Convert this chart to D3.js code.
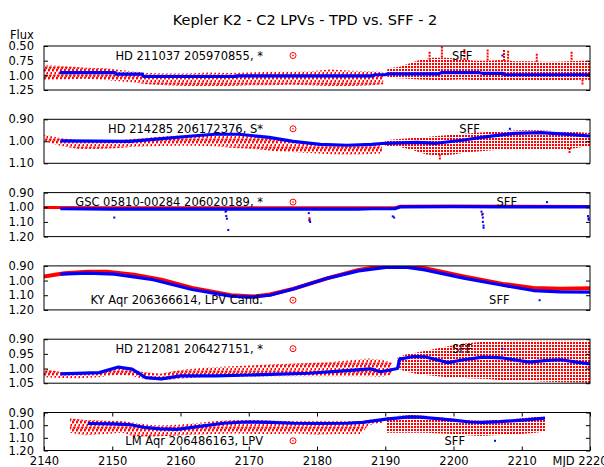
<!DOCTYPE html>
<html>
<head>
<meta charset="utf-8">
<script src="https://cdn.jsdelivr.net/npm/d3@7"></script>
<style>
body { margin: 0; background: #fff; }
svg { font-family: 'DejaVu Sans', sans-serif; }
</style>
</head>
<body>
<svg></svg>
<script>
var title = 'Kepler K2 - C2 LPVs - TPD vs. SFF - 2'
var xTicks = [2140, 2150, 2160, 2170, 2180, 2190, 2200, 2210, 2220]
var names = ['HD 211037 205970855, *', 'HD 214285 206172376, S*', 'GSC 05810-00284 206020189, *',
    'KY Aqr 206366614, LPV Cand.', 'HD 212081 206427151, *', 'LM Aqr 206486163, LPV']
var yDomains = [[0.5, 1.25], [0.9, 1.1], [0.9, 1.2], [0.9, 1.2], [0.9, 1.05], [0.9, 1.2]]
var yTicks = [[0.5, 0.75, 1, 1.25], [0.9, 1, 1.1], [0.9, 1, 1.1, 1.2], [0.9, 1, 1.1, 1.2], [0.9, 0.95, 1, 1.05], [0.9, 1, 1.1, 1.2]]

// TPD flux ranges [MJD, min, max], SFF flux [MJD, flux]
var tpdStreak1 = [[2140,0.83,1.08],[2143,0.84,1.07],[2146,0.87,1.06],[2149,0.88,1.08],[2151,0.91,1.10],[2153,0.93,1.12],[2155,0.96,1.15],[2158,0.97,1.17],[2161,0.97,1.18],[2164,0.95,1.18],[2167,0.96,1.18],[2170,0.95,1.17],[2173,0.94,1.17],[2176,0.94,1.16],[2179,0.93,1.17],[2182,0.90,1.18],[2185,0.92,1.18],[2188,0.93,1.17],[2189.7,0.94,1.15]]
var tpdDots1 = [[2190.3,0.88,1.04],[2192,0.86,1.05],[2193.5,0.80,1.06],[2195,0.74,1.07],[2197,0.70,1.08],[2199,0.70,1.08],[2201,0.72,1.07],[2203,0.75,1.08],[2205,0.75,1.09],[2207,0.74,1.08],[2209,0.76,1.09],[2211,0.76,1.08],[2213,0.77,1.09],[2215,0.77,1.08],[2217,0.76,1.09],[2219,0.75,1.07],[2220,0.76,1.08]]
var tpdSpikes1 = [[2196.5,0.60,0.74],[2198.3,0.51,0.72],[2201.6,0.55,0.74],[2205,0.56,0.76],[2207.4,0.57,0.75],[2208,0.58,0.75],[2212.2,0.63,0.77],[2217.3,0.60,0.77],[2218.9,1.07,1.16]]
var sff1 = [[2142.3,0.955],[2150.4,0.955],[2150.6,0.98],[2154.4,0.98],[2154.6,1.02],[2168,1.02],[2168.2,1.01],[2188,1.01],[2188.5,0.99],[2190,0.99],[2190.3,0.975],[2197.8,0.975],[2198.2,0.955],[2203.8,0.955],[2204.2,0.965],[2207.2,0.965],[2207.5,0.99],[2220,0.99]]

var tpdStreak2 = [[2140,0.97,1.0],[2142.4,0.985,1.02],[2145,0.995,1.035],[2148,0.995,1.035],[2151,0.995,1.03],[2153,0.99,1.025],[2156,0.982,1.022],[2159,0.975,1.02],[2162,0.97,1.02],[2165,0.968,1.022],[2168,0.972,1.03],[2171,0.98,1.035],[2174,0.99,1.045],[2177,1.0,1.05],[2180,1.01,1.055],[2183,1.012,1.06],[2186,1.012,1.06],[2189.5,1.01,1.055]]
var tpdDots2 = [[2190,0.995,1.02],[2192,0.99,1.025],[2194,0.985,1.04],[2196,0.98,1.06],[2198,0.975,1.065],[2200,0.97,1.06],[2202,0.965,1.05],[2204,0.96,1.045],[2206,0.955,1.04],[2208,0.952,1.04],[2210,0.95,1.04],[2212,0.95,1.035],[2214,0.952,1.035],[2216,0.955,1.04],[2218,0.958,1.03],[2220,0.962,1.02]]
var tpdSpikes2 = [[2198,1.06,1.085],[2217,1.03,1.055]]
var sff2 = [[2142.4,0.998],[2152.6,1.0],[2156,0.991],[2161.7,0.976],[2165,0.968],[2168.5,0.968],[2173,0.982],[2176.5,1.0],[2180.5,1.014],[2184.4,1.018],[2188,1.014],[2190,1.009],[2194.7,1.005],[2197.5,1.009],[2201.5,0.994],[2204.9,0.979],[2208.9,0.964],[2212.8,0.961],[2216.3,0.967],[2220,0.976]]

var tpd3 = [[2140,1.002],[2150,1.003],[2160,1.004],[2170,1.004],[2180,1.004],[2191.5,1.003],[2192.2,0.993],[2200,0.992],[2210,0.993],[2220,0.994]]
var tpdOut3 = [[2166.7,1.025],[2178.9,1.075],[2178.9,1.085],[2204.3,1.045]]
var sff3 = [[2142.4,1.01],[2150,1.012],[2160,1.013],[2170,1.013],[2180,1.012],[2186,1.012],[2188,1.01],[2191.5,1.009],[2192.3,0.997],[2200,0.996],[2210,0.997],[2220,0.998]]
var sffOut3 = [[2150.3,1.07],[2166.6,1.03],[2166.7,1.06],[2166.8,1.078],[2167,1.155],[2178.8,1.04],[2178.9,1.09],[2179,1.1],[2191.1,1.062],[2191.3,1.07],[2204.1,1.03],[2204.2,1.05],[2204.3,1.07],[2204.3,1.1],[2204.4,1.125],[2204.4,1.14],[2219.7,1.06],[2219.8,1.075],[2219.8,1.085]]

var tpd4 = [[2140,0.972],[2143,0.95],[2146.4,0.94],[2149.2,0.94],[2153.2,0.96],[2157.2,0.994],[2161.7,1.05],[2167.4,1.1],[2170.8,1.108],[2173.1,1.095],[2176.5,1.057],[2181.6,0.983],[2186.1,0.927],[2189.5,0.904],[2193,0.9],[2195.8,0.916],[2201.5,0.972],[2207.2,1.023],[2211.7,1.05],[2215.7,1.055],[2220,1.052]]
var sff4 = [[2142.4,0.956],[2146.4,0.949],[2150.3,0.956],[2156,0.994],[2161.7,1.061],[2167.4,1.106],[2170.2,1.113],[2173.1,1.1],[2176.5,1.057],[2181.6,0.983],[2186.1,0.934],[2190.1,0.911],[2193,0.909],[2195.8,0.927],[2201.5,0.983],[2207.2,1.032],[2211.7,1.068],[2215.7,1.077],[2220,1.079]]

var tpdStreak5 = [[2140,1.0,1.03],[2142.4,1.012,1.032],[2145,1.015,1.033],[2148,1.012,1.03],[2150.5,0.998,1.022],[2152.5,1.0,1.024],[2154.5,1.012,1.035],[2157,1.018,1.04],[2160,1.005,1.035],[2163,0.998,1.03],[2166,0.994,1.028],[2170,0.99,1.027],[2174,0.985,1.026],[2178,0.982,1.026],[2182,0.978,1.026],[2185,0.972,1.026],[2187.5,0.966,1.026],[2189.5,0.97,1.028],[2191,0.98,1.02]]
var tpdDots5 = [[2191.8,0.962,1.0],[2193,0.952,1.01],[2195,0.944,1.02],[2197,0.934,1.025],[2199,0.925,1.03],[2201,0.916,1.032],[2203,0.911,1.034],[2205,0.908,1.036],[2207,0.906,1.04],[2209,0.905,1.04],[2211,0.905,1.042],[2213,0.905,1.044],[2215,0.905,1.046],[2217,0.905,1.047],[2219,0.905,1.048],[2220,0.908,1.05]]
var sff5 = [[2142.4,1.018],[2148.1,1.014],[2150.9,0.995],[2152.9,1.002],[2154.9,1.031],[2157.2,1.035],[2160,1.025],[2165.1,1.025],[2170.2,1.022],[2178.8,1.016],[2184.4,1.007],[2187.8,1.001],[2189.3,1.011],[2190.7,1.005],[2191.8,1.0],[2192.1,0.968],[2194.1,0.959],[2195.8,0.96],[2199.2,0.98],[2201.5,0.97],[2204.3,0.961],[2207.2,0.964],[2211.1,0.978],[2213.4,0.973],[2215.7,0.97],[2218,0.978],[2220.2,0.985]]

var tpdStreak6 = [[2143.8,0.945,1.06],[2146,0.96,1.08],[2149,0.965,1.07],[2151.5,0.97,1.06],[2153.2,0.98,1.09],[2156,1.0,1.09],[2158,1.0,1.085],[2160,0.995,1.08],[2162,0.985,1.075],[2165,0.97,1.07],[2168,0.96,1.065],[2171,0.96,1.07],[2174,0.965,1.07],[2177,0.97,1.065],[2180,0.97,1.075],[2183,0.97,1.07],[2186.5,0.97,1.07],[2187.5,0.96,1.0],[2189.5,0.95,0.98]]
var tpdDots6 = [[2190.2,0.94,1.06],[2192,0.925,1.06],[2194,0.92,1.06],[2196,0.925,1.06],[2198,0.94,1.065],[2200,0.95,1.07],[2202,0.96,1.08],[2204,0.965,1.085],[2206,0.96,1.08],[2208,0.955,1.075],[2210,0.945,1.07],[2212,0.935,1.06],[2213.4,0.93,1.05]]
var sff6 = [[2146.4,0.987],[2150,0.99],[2152.5,0.995],[2155,1.02],[2157,1.03],[2159.5,1.033],[2162.8,1.01],[2166.3,0.985],[2169.7,0.975],[2173.1,0.978],[2176.5,0.985],[2180,0.987],[2184.4,0.985],[2186.7,0.978],[2190.1,0.952],[2193.5,0.935],[2195.1,0.937],[2198,0.95],[2200.3,0.962],[2202.4,0.975],[2204.3,0.978],[2206.8,0.972],[2210.6,0.958],[2213.4,0.945]]

var RED = '#ff0000', BLUE = '#0000ff'
var panels = [
    {streak: tpdStreak1, dots: tpdDots1, spikes: tpdSpikes1, sff: sff1, key: 'top'},
    {streak: tpdStreak2, dots: tpdDots2, spikes: tpdSpikes2, sff: sff2, key: 'top'},
    {tpdLine: tpd3, tpdOut: tpdOut3, sff: sff3, sffOut: sffOut3, key: 'top'},
    {tpdLine: tpd4, sff: sff4, key: 'bottom'},
    {streak: tpdStreak5, dots: tpdDots5, sff: sff5, key: 'top'},
    {streak: tpdStreak6, dots: tpdDots6, sff: sff6, key: 'bottom'}
]

var svg = d3.select('svg').attr('width', 604).attr('height', 467)
var left = 44, right = 590
var x = d3.scaleLinear().domain([2140, 2220]).range([left, right])

var defs = svg.append('defs')
var pStreak = defs.append('pattern').attr('id', 'streak').attr('patternUnits', 'userSpaceOnUse')
    .attr('width', 4).attr('height', 8)
pStreak.append('line').attr('x1', -1).attr('y1', 10).attr('x2', 5).attr('y2', -2)
    .attr('stroke', RED).attr('stroke-width', 2.2).attr('stroke-dasharray', '2.5 0.5')
var pDots = defs.append('pattern').attr('id', 'dots').attr('patternUnits', 'userSpaceOnUse')
    .attr('width', 3).attr('height', 3)
pDots.append('rect').attr('x', 0).attr('y', 0).attr('width', 2).attr('height', 2)
    .attr('fill', RED).attr('shape-rendering', 'crispEdges')

svg.append('text').attr('x', 305).attr('y', 25).attr('text-anchor', 'middle')
    .style('font-size', '14.5px').text(title)
svg.append('text').attr('x', 10).attr('y', 38.5).style('font-size', '11.5px').text('Flux')

panels.forEach((p, i) => {
    var top = 46 + i * 73.3
    var bottom = i == 5 ? top + 38 : top + 44
    var y = d3.scaleLinear().domain(yDomains[i]).range([top, bottom])

    defs.append('clipPath').attr('id', 'clip' + i).append('rect')
        .attr('x', left).attr('y', top).attr('width', right - left).attr('height', bottom - top)
    var g = svg.append('g').attr('clip-path', 'url(#clip' + i + ')')

    var area = d3.area().x(d => x(d[0])).y0(d => y(d[1])).y1(d => y(d[2]))
    var line = d3.line().x(d => x(d[0])).y(d => y(d[1]))

    if (p.streak) g.append('path').attr('d', area(p.streak)).attr('fill', 'url(#streak)')
    if (p.dots) g.append('path').attr('d', area(p.dots)).attr('fill', 'url(#dots)')
    if (p.spikes) {
        g.selectAll('.spike').data(p.spikes).enter().append('line')
            .attr('x1', d => x(d[0])).attr('x2', d => x(d[0]))
            .attr('y1', d => y(d[1])).attr('y2', d => y(d[2]))
            .attr('stroke', RED).attr('stroke-width', 2).attr('stroke-dasharray', '2 1')
    }
    if (p.tpdLine) {
        g.append('path').attr('d', line(p.tpdLine)).attr('fill', 'none')
            .attr('stroke', RED).attr('stroke-width', i == 3 ? 4 : 3).attr('stroke-linejoin', 'round')
    }
    if (p.tpdOut) {
        g.selectAll('.tout').data(p.tpdOut).enter().append('rect')
            .attr('x', d => x(d[0]) - 1).attr('y', d => y(d[1]) - 1)
            .attr('width', 2).attr('height', 2).attr('fill', RED)
    }

    g.append('path').attr('d', line(p.sff)).attr('fill', 'none')
        .attr('stroke', BLUE).attr('stroke-width', 3.2).attr('stroke-linejoin', 'round')
    if (p.sffOut) {
        g.selectAll('.sout').data(p.sffOut).enter().append('rect')
            .attr('x', d => x(d[0]) - 1).attr('y', d => y(d[1]) - 1)
            .attr('width', 2).attr('height', 2).attr('fill', BLUE)
    }

    // axes
    var yl = svg.append('g').attr('transform', 'translate(' + left + ',0)')
        .call(d3.axisLeft(y).tickValues(yTicks[i]).tickSize(-4).tickPadding(10).tickFormat(d3.format('.2f')))
    var yr = svg.append('g').attr('transform', 'translate(' + right + ',0)')
        .call(d3.axisRight(y).tickValues(yTicks[i]).tickSize(-4).tickFormat(''))
    ;[yl, yr].forEach(a => {
        a.select('.domain').remove()
        a.attr('font-family', null).attr('font-size', null)
        a.selectAll('text').style('font-size', '11.5px').attr('fill', '#000')
        a.selectAll('line').attr('stroke', '#000')
    })

    if (i == 5) {
        var xb = svg.append('g').attr('transform', 'translate(0,' + bottom + ')')
            .call(d3.axisBottom(x).tickValues(xTicks).tickSize(-4).tickPadding(6)
                .tickFormat(d => d == 2220 ? 'MJD 2220' : d))
        var xt = svg.append('g').attr('transform', 'translate(0,' + top + ')')
            .call(d3.axisTop(x).tickValues(xTicks).tickSize(-4).tickFormat(''))
        ;[xb, xt].forEach(a => {
            a.select('.domain').remove()
            a.attr('font-family', null).attr('font-size', null)
            a.selectAll('text').style('font-size', '11.5px').attr('fill', '#000')
            a.selectAll('line').attr('stroke', '#000')
        })
        xb.selectAll('text').filter(d => d == 2220).attr('text-anchor', 'start').attr('x', -38)
    }

    svg.append('rect').attr('x', left).attr('y', top).attr('width', right - left).attr('height', bottom - top)
        .attr('fill', 'none').attr('stroke', '#000').attr('stroke-width', 1)

    // key
    var ky = p.key == 'top' ? top + 9.5 : bottom - 9.7
    var colW = 7.43 * names[i].length + 46
    svg.append('text').attr('x', 263).attr('y', ky + 4).attr('text-anchor', 'end')
        .style('font-size', '11.5px').text(names[i])
    svg.append('circle').attr('cx', 293).attr('cy', ky).attr('r', 3)
        .attr('fill', 'none').attr('stroke', RED).attr('stroke-width', 1)
    svg.append('circle').attr('cx', 293).attr('cy', ky).attr('r', 0.8).attr('fill', RED)
    svg.append('text').attr('x', 263 + colW).attr('y', ky + 4).attr('text-anchor', 'end')
        .style('font-size', '11.5px').text('SFF')
    svg.append('rect').attr('x', 293 + colW - 1).attr('y', ky - 1).attr('width', 2).attr('height', 2).attr('fill', BLUE)
})
</script>
</body>
</html>
